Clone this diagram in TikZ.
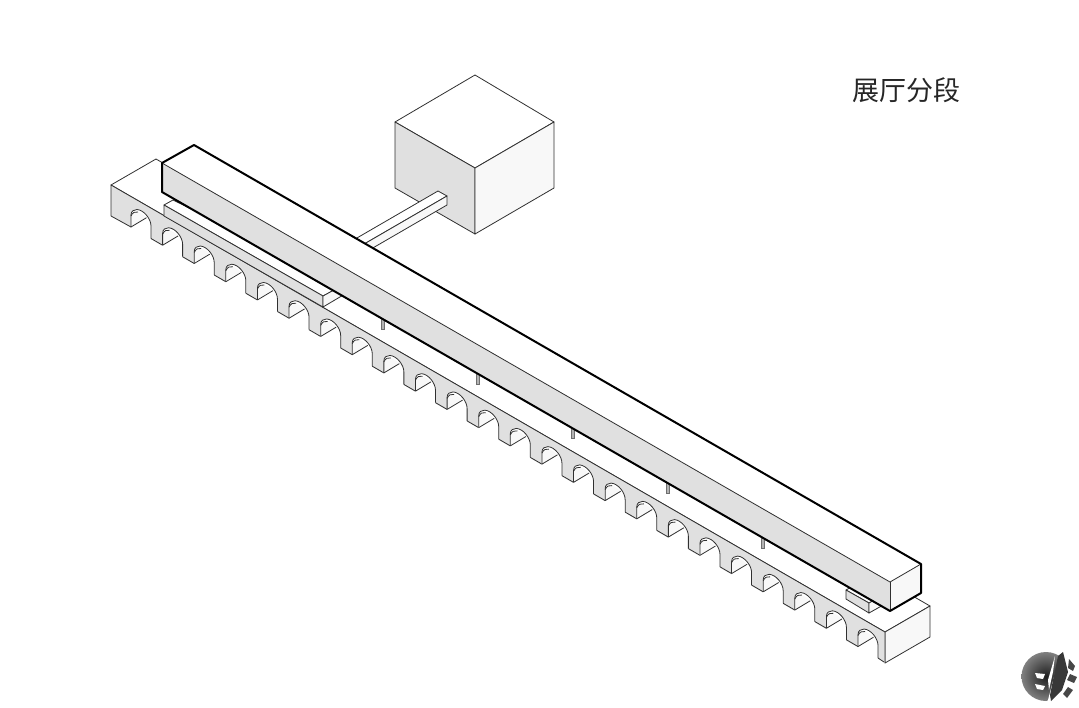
\documentclass[tikz,border=0pt]{standalone}
\usepackage{fontspec}
\newfontfamily\cjk{Noto Sans CJK SC}
\definecolor{facegray}{HTML}{E0E0E0}
\definecolor{facelight}{HTML}{F8F8F8}
\definecolor{linegray}{HTML}{303030}
\tikzset{
  thinline/.style={draw=linegray, line width=0.8pt, line join=round},
  thickline/.style={draw=black, line width=2pt, line join=round},
}

\begin{document}
\begin{tikzpicture}[x=1pt, y=-1pt]
\useasboundingbox (0,0) rectangle (1079,707);

% Base: top, end face, arcade face.
\draw[thinline, fill=white] (111,185) -- (156,159) -- (930,606) -- (885,632) -- cycle;
\draw[thinline, fill=facelight] (885,632) -- (930,606) -- (930,637) -- (885,663) -- cycle;
\fill[facegray] (111,185) -- (885,632) -- (885,663) -- (111,216) -- cycle;
\draw[thinline] (111,216) -- (111,185) -- (885,632) -- (885,663);
\draw[thinline] (111,216) -- (131,227);

% Arches along the base.
\foreach \i in {0,...,23} {
  \begin{scope}[shift={({131+31.61*\i},{227+18.24*\i})}]
    \fill[white] (0,2) -- (0,-12) .. controls (0,-16) and (3,-17.5) .. (6,-17.5)
      .. controls (13,-17) and (20,-8) .. (20,-1) -- (20,13.5) -- cycle;
    \fill[facelight] (0,0) -- (0,-11) .. controls (1.5,-14.5) and (4,-15.8) .. (7,-15)
      .. controls (10,-14) and (13,-12) .. (15.5,-9.3) -- cycle;
    \draw[thinline] (0,0) -- (0,-12) .. controls (0,-16) and (3,-17.5) .. (6,-17.5)
      .. controls (13,-17) and (20,-8) .. (20,-1) -- (20,11.5);
    \draw[thinline] (0,-11) .. controls (1.5,-14.5) and (4,-15.8) .. (7,-15);
    \draw[thinline] (0,0) -- (15.5,-9.3);
    \ifnum\i<23
      \draw[thinline] (20,11.5) -- (31.61,18.24);
    \else
      \draw[thinline] (20,11.5) -- (26,15.5);
    \fi
  \end{scope}
}

% Platforms lying on the base.
\draw[thinline, fill=white] (164,205) -- (173,200) -- (345,284) -- (323,296) -- cycle;
\draw[thinline, fill=facegray] (164,205) -- (164,216) -- (323,307) -- (323,296) -- cycle;
\draw[thinline, fill=facelight] (323,296) -- (323,307) -- (345,294) -- (345,284) -- cycle;
\draw[thinline, fill=white] (846,590) -- (853,586) -- (885,594) -- (869,603) -- cycle;
\draw[thinline, fill=facegray] (846,590) -- (846,599) -- (869,613) -- (869,603) -- cycle;
\draw[thinline, fill=facelight] (869,603) -- (869,613) -- (885,604) -- (885,594) -- cycle;

% Thin columns under the long box.
\foreach \i in {0,...,4} {
  \draw[draw=linegray!70, line width=0.5pt, fill=black!30] ({381+95*\i},{310+54.8*\i}) rectangle ({384.5+95*\i},{329+54.8*\i});
}

% Cube.
\draw[thinline, fill=white] (475,75) -- (554,122) -- (475,168) -- (395,122) -- cycle;
\draw[thinline, fill=facegray] (395,122) -- (475,168) -- (475,234) -- (395,188) -- cycle;
\draw[thinline, fill=facelight] (475,168) -- (554,122) -- (554,188) -- (475,234) -- cycle;

% Corridor from cube to long box.
\draw[thinline, fill=white] (438,191) -- (447,196) -- (340,258) -- (331,253) -- cycle;
\draw[thinline, fill=facelight] (447,196) -- (447,205) -- (340,267) -- (340,258) -- cycle;

% Long box.
\fill[white] (162,163) -- (194,145) -- (921,564) -- (890,582) -- cycle;
\fill[facegray] (162,163) -- (890,582) -- (890,611) -- (162,192) -- cycle;
\fill[facelight] (890,582) -- (921,564) -- (921,593) -- (890,611) -- cycle;
\draw[thinline] (162,163) -- (890,582) -- (921,564);
\draw[thinline] (890,582) -- (890,611);
\draw[thickline] (162,163) -- (194,145) -- (921,564) -- (921,593) -- (890,611) -- (162,192) -- cycle;

% Title.
\node[inner sep=0pt, text=black!85] (title) at (906,90) {\cjk\fontsize{27}{27}\selectfont 展厅分段};

% Round mark in the corner.
\shade[inner color=black!88, outer color=black!50] (1046,676.5) circle (24.5);
\fill[white] (1061,650) -- (1072,650) -- (1072,703) -- (1045,703) -- (1048,700) -- cycle;
\fill[black!72] (1069,659) -- (1075,666) -- (1073,671) -- (1068,668) -- cycle;
\fill[black!72] (1070,674) -- (1077,677) -- (1074,683) -- (1067,680) -- cycle;
\fill[black!72] (1068,687) -- (1073,690) -- (1067,698) -- (1063,694) -- cycle;
\fill[black!78] (1058,656) -- (1063,652) -- (1068,672) -- (1062,690) -- (1051,701) -- (1050,695) -- cycle;
\fill[white] (1055,656) -- (1053,672) -- (1049,690) -- (1048,680) -- cycle;
\fill[white] (1035,673) -- (1045,674) -- (1043,679) -- (1037,678) -- cycle;
\fill[white] (1035,684) -- (1045,686) -- (1043,690) -- (1037,689) -- cycle;
\end{tikzpicture}
\end{document}
